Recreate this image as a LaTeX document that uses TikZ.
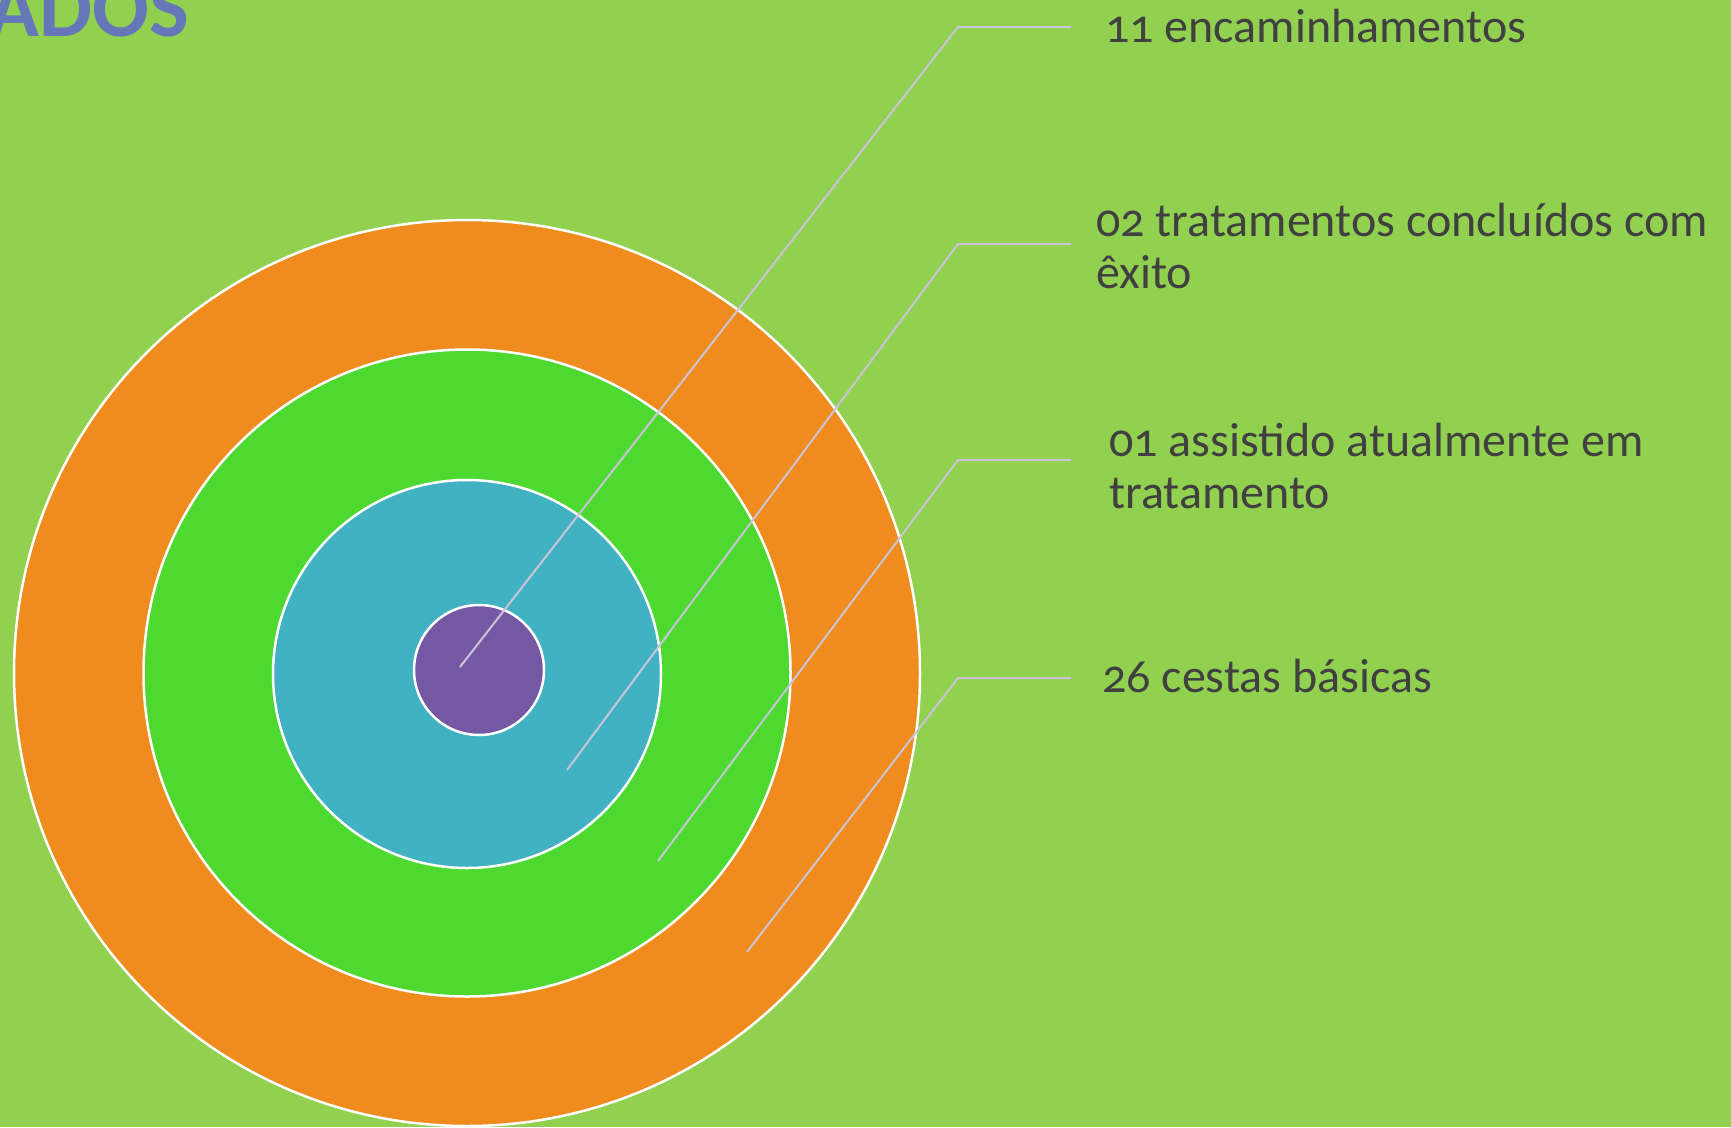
\documentclass[tikz,border=0pt]{standalone}
\usepackage{fontspec}
\setmainfont{Carlito}[Numbers=OldStyle]
\definecolor{bg}{HTML}{92D050}
\definecolor{ringorange}{HTML}{F08C1E}
\definecolor{ringgreen}{HTML}{4DD930}
\definecolor{ringcyan}{HTML}{41B2C2}
\definecolor{ringpurple}{HTML}{7558A4}
\definecolor{txt}{HTML}{404040}
\definecolor{leader}{HTML}{CBC4D8}
\definecolor{titleblue}{HTML}{6577B8}
\begin{document}
\begin{tikzpicture}[x=1pt,y=-1pt,
  ring/.style={draw=white,line width=2.5pt},
  leaderline/.style={draw=leader,line width=2pt},
  lbl/.style={anchor=base west,inner sep=0pt,text=txt,font=\fontsize{48}{52}\selectfont,align=left}]
\useasboundingbox (0,0) rectangle (1731,1127);
\clip (0,0) rectangle (1731,1127);
\fill[bg] (0,0) rectangle (1731,1127);
% title fragment
\node[anchor=base east,inner sep=0pt,text=titleblue,font=\fontsize{84}{84}\selectfont\bfseries] (title) at (189,36) {ADOS};
% rings
\fill[ringorange,ring] (467,673) circle[radius=453];
\fill[ringgreen,ring] (467,673) circle[radius=323.5];
\fill[ringcyan,ring] (467,674) circle[radius=194];
\fill[ringpurple,ring] (479,670) circle[radius=65];
% leader coordinates
\coordinate (s1) at (460,667);
\coordinate (k1) at (958,27);
\coordinate (e1) at (1071,27);
\coordinate (s2) at (567,770);
\coordinate (k2) at (958,244);
\coordinate (e2) at (1071,244);
\coordinate (s3) at (658,861);
\coordinate (k3) at (958,460);
\coordinate (e3) at (1071,460);
\coordinate (s4) at (747,952);
\coordinate (k4) at (958,678);
\coordinate (e4) at (1071,678);
\draw[leaderline] (s1) -- (k1) -- (e1);
\draw[leaderline] (s2) -- (k2) -- (e2);
\draw[leaderline] (s3) -- (k3) -- (e3);
\draw[leaderline] (s4) -- (k4) -- (e4);
% labels (multi-line nodes: base is the last line)
\node[lbl] (l1) at (1105,42) {11 encaminhamentos};
\node[lbl] (l2) at (1096,288) {02 tratamentos concluídos com\\êxito};
\node[lbl] (l3) at (1109,508) {01 assistido atualmente em\\tratamento};
\node[lbl] (l4) at (1102,692) {26 cestas básicas};
\end{tikzpicture}
\end{document}
